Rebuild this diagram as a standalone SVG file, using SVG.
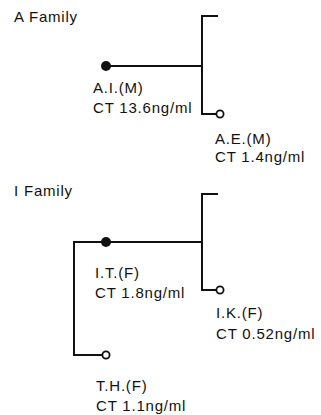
<svg xmlns="http://www.w3.org/2000/svg" width="321" height="415" viewBox="0 0 321 415">
<style>
text{font-family:"Liberation Sans",Arial,sans-serif;font-size:15px;letter-spacing:0.8px;fill:#111}
.ln{fill:none;stroke:#111;stroke-width:2;stroke-linejoin:miter}
.fd{fill:#111}
.od{fill:#fff;stroke:#111;stroke-width:1.8}
</style>
<rect width="321" height="415" fill="#fff"/>
<g id="connectors">
<path class="ln" d="M218,16 H202 V114 H216"/>
<path class="ln" d="M106,66 H202"/>
<path class="ln" d="M218,194 H202 V290 H216"/>
<path class="ln" d="M202,242 H74 V355 H102"/>
</g>
<g id="title-a"><text x="14" y="22">A Family</text></g>
<g id="node-AI">
<circle class="fd" cx="106" cy="66" r="5"/>
<text x="93" y="93">A.I.(M)</text>
<text x="93" y="113">CT 13.6ng/ml</text>
</g>
<g id="node-AE">
<circle class="od" cx="220" cy="114" r="3.6"/>
<text x="215" y="144">A.E.(M)</text>
<text x="215" y="162">CT 1.4ng/ml</text>
</g>
<g id="title-i"><text x="14" y="196">I Family</text></g>
<g id="node-IT">
<circle class="fd" cx="106" cy="242" r="5"/>
<text x="95" y="278">I.T.(F)</text>
<text x="95" y="298">CT 1.8ng/ml</text>
</g>
<g id="node-IK">
<circle class="od" cx="220" cy="290" r="3.6"/>
<text x="216" y="318">I.K.(F)</text>
<text x="216" y="339">CT 0.52ng/ml</text>
</g>
<g id="node-TH">
<circle class="od" cx="106" cy="355" r="3.6"/>
<text x="96" y="391">T.H.(F)</text>
<text x="96" y="411">CT 1.1ng/ml</text>
</g>
</svg>
